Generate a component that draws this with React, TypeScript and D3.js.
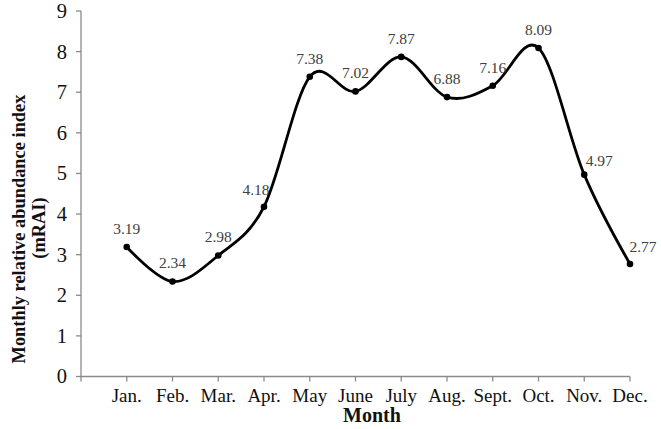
import { useMemo } from 'react';
import * as d3 from 'd3';

// months on the x axis, mRAI values
const months = ['Jan.', 'Feb.', 'Mar.', 'Apr.', 'May', 'June', 'July', 'Aug.', 'Sept.', 'Oct.', 'Nov.', 'Dec.'];
const mrai = [3.19, 2.34, 2.98, 4.18, 7.38, 7.02, 7.87, 6.88, 7.16, 8.09, 4.97, 2.77];
const yTicks = [0, 1, 2, 3, 4, 5, 6, 7, 8, 9];

// where each value label sits relative to its point (dx, dy of baseline)
const labelOffset: Record<string, [number, number]> = {
  'Apr.': [-8, -12],
  'Nov.': [15, -9],
  'Dec.': [13, -12],
};

const WIDTH = 661;
const HEIGHT = 429;
const FONT = '"Liberation Serif", "Times New Roman", serif';
const AXIS = '#8a8a8a';

export default function App() {
  const margin = { top: 11, right: 31, bottom: 52.5, left: 81 };

  // first slot is empty so the months sit on ticks 1..12, as in the original
  const xScale = useMemo(
    () => d3.scalePoint<string>().domain(['', ...months]).range([margin.left, WIDTH - margin.right]),
    []
  );
  const yScale = useMemo(
    () => d3.scaleLinear().domain([0, 9]).range([HEIGHT - margin.bottom, margin.top]),
    []
  );

  const pts: [number, number][] = months.map((m, i) => [xScale(m)!, yScale(mrai[i])]);
  const path = d3.line().curve(d3.curveCardinal.tension(0))(pts);

  const x0 = margin.left;
  const y0 = yScale(0);
  const xEnd = WIDTH - margin.right;

  return (
    <svg
      width={WIDTH}
      height={HEIGHT}
      style={{ position: 'absolute', left: 0, top: 0, background: '#fff', fontFamily: FONT }}
    >
      {/* y axis */}
      <line x1={x0} x2={x0} y1={yScale(9)} y2={y0} stroke={AXIS} strokeWidth={1.3} />
      {yTicks.map((t) => (
        <g key={t}>
          <line x1={x0 - 5} x2={x0} y1={yScale(t)} y2={yScale(t)} stroke={AXIS} strokeWidth={1.3} />
          <text x={67} y={yScale(t)} dy="0.34em" textAnchor="end" fontSize={20.5} fill="#111">
            {t}
          </text>
        </g>
      ))}

      {/* x axis */}
      <line x1={x0} x2={xEnd} y1={y0} y2={y0} stroke={AXIS} strokeWidth={1.3} />
      {xScale.domain().map((m) => (
        <line key={'t' + m} x1={xScale(m)} x2={xScale(m)} y1={y0} y2={y0 + 5} stroke={AXIS} strokeWidth={1.3} />
      ))}
      {months.map((m) => (
        <text key={m} x={xScale(m)} y={402} textAnchor="middle" fontSize={19} fill="#111">
          {m}
        </text>
      ))}

      {/* axis titles */}
      <text x={372} y={422} textAnchor="middle" fontSize={20} fontWeight="bold" fill="#111">
        Month
      </text>
      <g transform="translate(25,229) rotate(-90)">
        <text textAnchor="middle" fontSize={18.4} fontWeight="bold" fill="#111">
          Monthly relative abundance index
        </text>
      </g>
      <g transform="translate(45,228) rotate(-90)">
        <text textAnchor="middle" fontSize={18.4} fontWeight="bold" fill="#111">
          (mRAI)
        </text>
      </g>

      {/* smoothed line + markers */}
      <path d={path ?? ''} fill="none" stroke="#000" strokeWidth={2.8} />
      {pts.map(([x, y], i) => (
        <circle key={months[i]} cx={x} cy={y} r={3.3} fill="#000" />
      ))}
      {pts.map(([x, y], i) => {
        const [dx, dy] = labelOffset[months[i]] ?? [0, -13];
        return (
          <text key={'v' + months[i]} x={x + dx} y={y + dy} textAnchor="middle" fontSize={15.5} fill="#404040">
            {mrai[i].toFixed(2)}
          </text>
        );
      })}
    </svg>
  );
}
